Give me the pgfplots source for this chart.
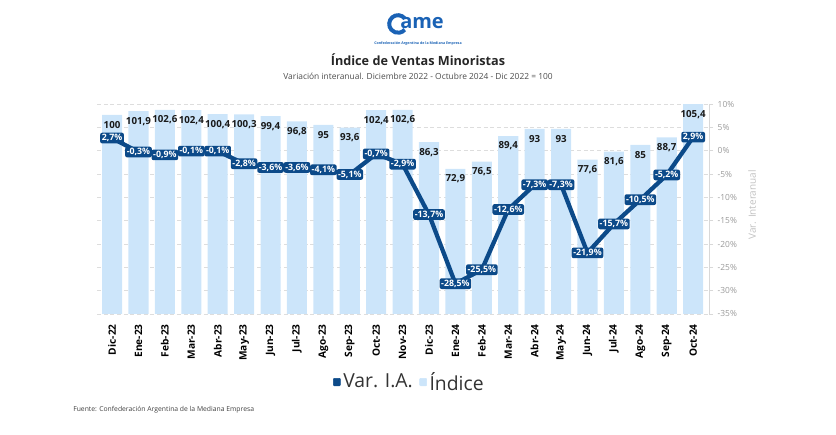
\documentclass[border=0pt]{standalone}
\usepackage{pgfplots}
\pgfplotsset{compat=1.18}
\usepackage{pgfplotstable}
\usepackage{fontspec}
\setmainfont{Open Sans}
\definecolor{barblue}{HTML}{CCE5FA}
\definecolor{lineblue}{HTML}{0C4A89}
\definecolor{logoblue}{HTML}{1A62B5}
\definecolor{gridgray}{HTML}{DDDDDD}
\definecolor{tickgray}{HTML}{9A9A9A}
\definecolor{axisgray}{HTML}{D8D8D8}

\pgfplotstableread{
x idx var
0 100 2.7
1 101.9 -0.3
2 102.6 -0.9
3 102.4 -0.1
4 100.4 -0.1
5 100.3 -2.8
6 99.4 -3.6
7 96.8 -3.6
8 95 -4.1
9 93.6 -5.1
10 102.4 -0.7
11 102.6 -2.9
12 86.3 -13.7
13 72.9 -28.5
14 76.5 -25.5
15 89.4 -12.6
16 93 -7.3
17 93 -7.3
18 77.6 -21.9
19 81.6 -15.7
20 85 -10.5
21 88.7 -5.2
22 105.4 2.9
}\data

\pgfplotsset{base/.style={at={(72.75pt,90.75pt)}, anchor=south west, scale only axis,
  width=459pt, height=157.5pt, xmin=-0.57, xmax=22.6,
  /pgf/number format/assume math mode=true}}

\begin{document}
\begin{tikzpicture}
\path[use as bounding box] (0,0) rectangle (627pt,326.25pt);

% logo and titles
\draw[logoblue, line width=3pt] (298.5pt,308.25pt) ++(40:6.6pt) arc[start angle=40, end angle=320, radius=6.6pt];
\node[font=\bfseries\fontsize{15}{16}\selectfont, text=logoblue, anchor=west, inner sep=0pt] at (300pt,309pt) {ame};
\node[font=\bfseries\fontsize{2.7}{3}\selectfont, text=logoblue] at (313.5pt,293.25pt) {Confederación Argentina de la Mediana Empresa};
\node[font=\bfseries\fontsize{9.5}{11}\selectfont, text=black!85] at (313.5pt,281.25pt) {Índice de Ventas Minoristas};
\node[font=\fontsize{6.3}{8}\selectfont, text=black!70] at (313.5pt,269.25pt) {Variación interanual. Diciembre 2022 - Octubre 2024 - Dic 2022 = 100};
\node[font=\fontsize{5.1}{7}\selectfont, text=black!75, anchor=west, inner sep=0pt] at (54.75pt,18.75pt) {Fuente: Confederación Argentina de la Mediana Empresa};

% right axis with grid
\begin{axis}[base, ymin=-35, ymax=10,
  axis x line=none, axis y line*=right,
  ytick={-35,-30,...,10},
  ymajorgrids, grid style={densely dashed, gridgray, line width=0.4pt},
  y axis line style={axisgray, line width=0.6pt},
  ytick style={axisgray, line width=0.6pt},
  tick align=outside, major tick length=3pt,
  yticklabel style={font=\fontsize{6.3}{8}\selectfont, text=tickgray},
  yticklabel={\pgfmathprintnumber{\tick}\%},
  ylabel={Var. Interanual},
  every axis y label/.style={at={(rel axis cs:1.0703,0.52)}, rotate=90, anchor=center,
    font=\fontsize{7.5}{9}\selectfont, text=axisgray!90!black},
]
\addplot[draw=none] table[x=x, y=var] {\data};
\end{axis}

% bars
\begin{axis}[base, ymin=0, ymax=105.5, clip=false,
  ybar, bar width=0.76,
  axis y line=none, axis x line*=bottom,
  x axis line style={draw=none}, xtick style={draw=none},
  xtick=data,
  xticklabels={Dic-22,Ene-23,Feb-23,Mar-23,Abr-23,May-23,Jun-23,Jul-23,Ago-23,Sep-23,Oct-23,Nov-23,Dic-23,Ene-24,Feb-24,Mar-24,Abr-24,May-24,Jun-24,Jul-24,Ago-24,Sep-24,Oct-24},
  xticklabel style={rotate=90, anchor=east, font=\bfseries\fontsize{7.6}{9}\selectfont, text=black},
  nodes near coords,
  nodes near coords align=center,
  every node near coord/.append style={font=\bfseries\fontsize{7.3}{8}\selectfont, text=black!90, anchor=center, yshift=-7.5pt,
    /pgf/number format/.cd, use comma, fixed, precision=1},
]
\addplot[fill=barblue, draw=none] table[x=x, y=idx] {\data};
\end{axis}

% line
\begin{axis}[base, ymin=-35, ymax=10, hide axis, clip=false,
  nodes near coords={\pgfmathprintnumber[fixed, precision=1, use comma, assume math mode=true]{\pgfplotspointmeta}\%},
  nodes near coords align=center,
  every node near coord/.append style={anchor=center, fill=lineblue, text=white,
    font=\bfseries\fontsize{6.6}{7.5}\selectfont, inner sep=1.2pt, rounded corners=1.5pt},
  legend style={at={(0.511,-0.324)}, anchor=center, draw=none, fill=none,
    legend columns=2, font=\fontsize{14.5}{16}\selectfont, text=black!80,
    /tikz/every even column/.append style={column sep=3pt}},
]
\addlegendimage{legend image code/.code={\fill[lineblue, rounded corners=0.6pt] (0pt,-2.8pt) rectangle (5.2pt,2.8pt);}}
\addlegendentry{Var. I.A.}
\addlegendimage{legend image code/.code={\fill[barblue, rounded corners=0.6pt] (0pt,-2.8pt) rectangle (5.2pt,2.8pt);}}
\addlegendentry{Índice}
\addplot[lineblue, line width=3.2pt, line join=round, mark=none] table[x=x, y=var] {\data};
\end{axis}
\end{tikzpicture}
\end{document}
